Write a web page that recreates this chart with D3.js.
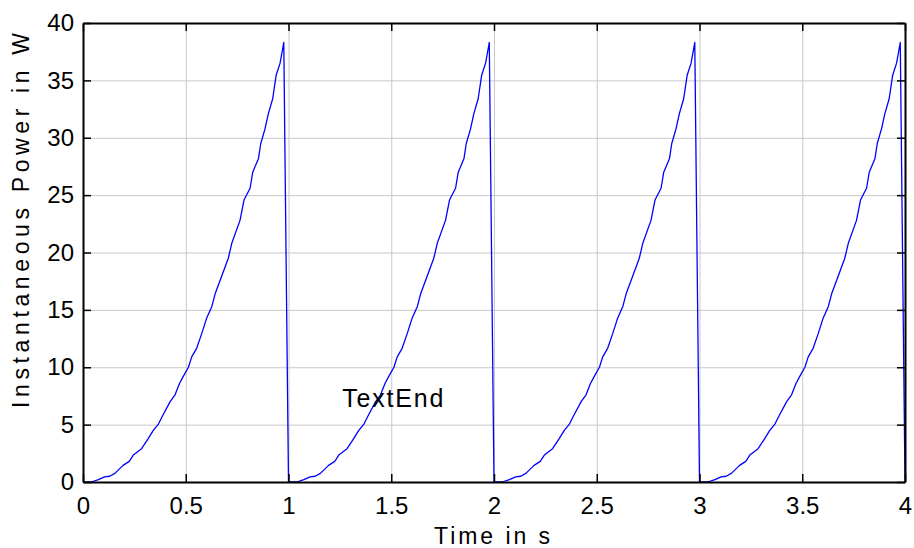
<!DOCTYPE html>
<html>
<head>
<meta charset="utf-8">
<script src="https://cdn.jsdelivr.net/npm/d3@7"></script>
<style>
    body { margin: 0; background: #fff; }
    svg { display: block; font-family: "Liberation Sans", Arial, sans-serif; }
    .grid line { stroke: #c8c8c8; stroke-width: 1; }
    .grid path { display: none; }
    .axis path, .axis line { stroke: #000; }
    .axis text { font-size: 24px; fill: #000; }
</style>
</head>
<body>
<svg id="chart" width="914" height="548"></svg>
<script>

// one period of the power curve (time offset in s, power in W)
let cycleTime = [0.000, 0.040, 0.075, 0.105, 0.130, 0.155, 0.195, 0.225, 0.245, 0.285,
                 0.318, 0.342, 0.367, 0.388, 0.424, 0.448, 0.470, 0.488, 0.513, 0.529,
                 0.553, 0.578, 0.602, 0.627, 0.643, 0.672, 0.707, 0.724, 0.764, 0.784,
                 0.813, 0.826, 0.854, 0.865, 0.886, 0.902, 0.923, 0.940, 0.959, 0.977];
let cyclePower = [0.00, 0.00, 0.20, 0.45, 0.50, 0.75, 1.45, 1.80, 2.35, 2.90,
                  3.80, 4.50, 5.05, 5.80, 7.00, 7.60, 8.60, 9.20, 10.0, 10.9,
                  11.65, 12.95, 14.3, 15.3, 16.4, 17.8, 19.5, 20.8, 22.8, 24.6,
                  25.6, 27.0, 28.2, 29.5, 30.8, 32.1, 33.4, 35.45, 36.5, 38.3];
// the curve repeats every second, and falls back to zero at the end
let cycleStarts = [0, 1, 2, 3];
let endPoint = {t: 4, p: 0};

let xTicks = [0, 0.5, 1, 1.5, 2, 2.5, 3, 3.5, 4];
let yTicks = [0, 5, 10, 15, 20, 25, 30, 35, 40];

class PowerChart {

    constructor(svg) {
        this.svg = svg;
    }

    buildSeries() {
        let series = [];
        cycleStarts.forEach(function (start) {
            cycleTime.forEach(function (t, i) {
                series.push({t: start + t, p: cyclePower[i]});
            });
        });
        series.push(endPoint);
        return series;
    }

    draw() {
        let left = 83, right = 905, top = 23, bottom = 482;
        let width = right - left;
        let height = bottom - top;
        let tickLen = 8;

        let xScale = d3.scaleLinear().domain([0, 4]).range([0, width]);
        let yScale = d3.scaleLinear().domain([0, 40]).range([height, 0]);

        let g = this.svg.append("g")
            .attr("transform", "translate(" + left + "," + top + ")");

        // grid
        g.append("g").attr("class", "grid")
            .attr("transform", "translate(0," + height + ")")
            .call(d3.axisBottom(xScale).tickValues(xTicks).tickSize(-height).tickFormat(""));
        g.append("g").attr("class", "grid")
            .call(d3.axisLeft(yScale).tickValues(yTicks).tickSize(-width).tickFormat(""));

        // data line
        let line = d3.line()
            .x(d => xScale(d.t))
            .y(d => yScale(d.p));
        g.append("path")
            .datum(this.buildSeries())
            .attr("fill", "none")
            .attr("stroke", "#0000ff")
            .attr("stroke-width", 1.3)
            .attr("stroke-linejoin", "round")
            .attr("d", line);

        // axes with inward ticks on all four sides
        g.append("g").attr("class", "axis")
            .attr("transform", "translate(0," + height + ")")
            .call(d3.axisBottom(xScale).tickValues(xTicks).tickSizeInner(-tickLen).tickSizeOuter(0)
                .tickPadding(15).tickFormat(d3.format("")));
        g.append("g").attr("class", "axis")
            .call(d3.axisTop(xScale).tickValues(xTicks).tickSizeInner(-tickLen).tickSizeOuter(0).tickFormat(""));
        g.append("g").attr("class", "axis")
            .call(d3.axisLeft(yScale).tickValues(yTicks).tickSizeInner(-tickLen).tickSizeOuter(0)
                .tickPadding(9).tickFormat(d3.format("")));
        g.append("g").attr("class", "axis")
            .attr("transform", "translate(" + width + ",0)")
            .call(d3.axisRight(yScale).tickValues(yTicks).tickSizeInner(-tickLen).tickSizeOuter(0).tickFormat(""));

        g.selectAll(".axis path").attr("stroke-width", 2);
        g.selectAll(".axis line").attr("stroke-width", 1.5);
        g.selectAll(".axis").attr("font-family", null).attr("font-size", null);

        // labels (stretched to the wide spacing of the original)
        this.svg.append("text")
            .attr("x", 434)
            .attr("y", 544)
            .attr("font-size", 23)
            .attr("textLength", 116)
            .attr("lengthAdjust", "spacing")
            .text("Time in s");
        this.svg.append("text")
            .attr("transform", "translate(29,408) rotate(-90)")
            .attr("font-size", 23)
            .attr("textLength", 375)
            .attr("lengthAdjust", "spacing")
            .text("Instantaneous Power in W");
        g.append("text")
            .attr("x", xScale(1.262))
            .attr("y", yScale(6.5))
            .attr("font-size", 25)
            .attr("textLength", 101)
            .attr("lengthAdjust", "spacing")
            .text("TextEnd");
    }
}

let chart = new PowerChart(d3.select("#chart"));
chart.draw();

</script>
</body>
</html>
